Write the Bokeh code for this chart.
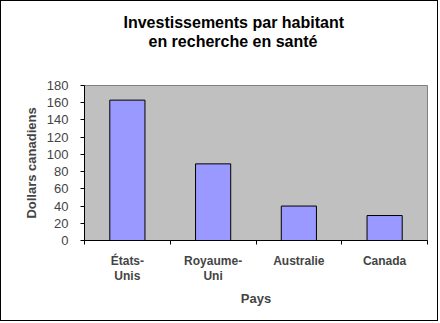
from bokeh.plotting import figure
from bokeh.models import FixedTicker, Title, Range1d
from bokeh.embed import file_html
from bokeh.resources import INLINE

countries = ["États-\nUnis", "Royaume-\nUni", "Australie", "Canada"]
values = [163, 89, 40, 29]
y_ticks = [0, 20, 40, 60, 80, 100, 120, 140, 160, 180]
title_lines = ["Investissements par habitant", "en recherche en santé"]

xs = [i + 0.5 for i in range(len(countries))]
bounds = list(range(len(countries) + 1))

FONT = "Liberation Sans"

p = figure(width=438, height=321, output_backend="svg", toolbar_location=None,
           x_range=Range1d(0, len(countries)), y_range=Range1d(0, 180),
           min_border_left=83, min_border_right=12, min_border_top=84, min_border_bottom=82)
p.styles = {"border": "1px solid black"}

p.vbar(x=xs, top=values, width=0.41, fill_color="#9999FF", line_color="black", line_width=1)

p.background_fill_color = "#C0C0C0"
p.border_fill_color = "white"
p.outline_line_color = "#808080"
p.outline_line_width = 1
p.xgrid.visible = False
p.ygrid.visible = False

title_style = dict(text_font=FONT, text_font_size="16px", text_font_style="bold",
                   text_color="black", align="left")
spacer = Title(text=" ", standoff=17, **title_style)
t2 = Title(text=title_lines[1], offset=64, standoff=0, **title_style)
t1 = Title(text=title_lines[0], offset=39, standoff=0, **title_style)
p.add_layout(spacer, "above")
p.add_layout(t2, "above")
p.add_layout(t1, "above")

xa = p.xaxis[0]
xa.ticker = FixedTicker(ticks=xs, minor_ticks=bounds)
xa.major_label_overrides = {x: c for x, c in zip(xs, countries)}
xa.major_tick_in = 0
xa.major_tick_out = 0
xa.minor_tick_in = 0
xa.minor_tick_out = 4
xa.minor_tick_line_color = "black"
xa.axis_line_color = "black"
xa.major_label_text_font = FONT
xa.major_label_text_font_size = "12px"
xa.major_label_text_font_style = "bold"
xa.major_label_text_line_height = 1.1
xa.major_label_standoff = 9
xa.axis_label = "Pays"
xa.axis_label_text_font = FONT
xa.axis_label_text_font_size = "13px"
xa.axis_label_text_font_style = "bold"
xa.axis_label_standoff = 5

ya = p.yaxis[0]
ya.ticker = FixedTicker(ticks=y_ticks, minor_ticks=[])
ya.major_tick_in = 0
ya.major_tick_out = 4
ya.major_label_text_font = FONT
ya.major_label_text_font_size = "13px"
ya.major_label_standoff = 12
ya.axis_line_color = "black"
ya.axis_label = "Dollars canadiens"
ya.axis_label_text_font = FONT
ya.axis_label_text_font_size = "13px"
ya.axis_label_text_font_style = "bold"
ya.axis_label_standoff = 5

open("out.html", "w").write(file_html(p, INLINE))
